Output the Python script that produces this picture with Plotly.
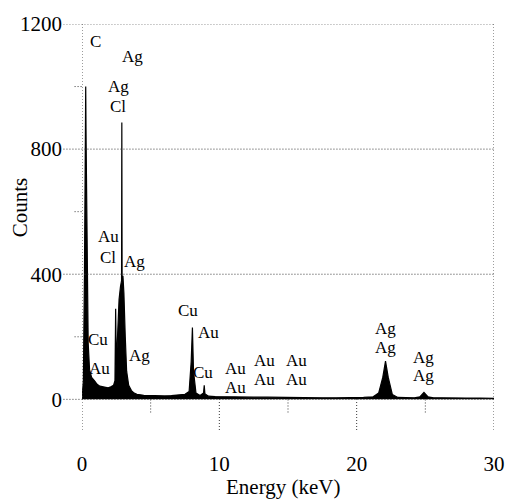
import plotly.graph_objects as go

# EDS spectrum
energy_kev = [0.0, 0.1, 0.18, 0.24, 0.27, 0.30, 0.36, 0.45, 0.55, 0.7, 0.9, 1.1, 1.3, 1.5,
              1.7, 1.9, 2.1, 2.3, 2.4, 2.45, 2.5, 2.6, 2.7, 2.8, 2.88, 2.9, 2.92, 2.98, 3.05,
              3.15, 3.25, 3.4, 3.6, 3.8, 4.0, 4.5, 5.0, 5.5, 6.0, 6.5, 7.0, 7.5, 7.8, 7.95,
              8.04, 8.12, 8.3, 8.6, 8.85, 8.9, 8.95, 9.2, 9.7, 10.5, 11.5, 12.5, 13.5, 14.5,
              15.5, 16.5, 17.5, 18.5, 19.5, 20.5, 21.2, 21.6, 21.9, 22.1, 22.3, 22.6, 23.0,
              23.6, 24.2, 24.6, 24.9, 25.2, 25.6, 26.2, 27.0, 28.0, 29.0, 30.0]
counts = [0, 60, 400, 900, 1000, 820, 420, 180, 95, 70, 60, 48, 42, 40,
          38, 37, 40, 45, 60, 290, 110, 250, 320, 360, 380, 885, 390, 395, 340,
          200, 90, 45, 28, 20, 16, 13, 12, 12, 11, 12, 13, 16, 25, 120,
          230, 90, 20, 12, 20, 45, 18, 10, 9, 8, 8, 7, 7, 6,
          6, 6, 5, 5, 5, 6, 8, 20, 70, 122, 70, 15, 6,
          5, 5, 8, 22, 8, 5, 5, 4, 4, 4, 3]

# peak labels (text, energy position, counts position)
label_text = ["C", "Ag", "Ag", "Cl", "Au", "Cl", "Ag", "Cu", "Au", "Ag",
              "Cu", "Au", "Cu", "Au", "Au", "Au", "Au", "Au", "Au",
              "Ag", "Ag", "Ag", "Ag"]
label_energy = [0.95, 3.7, 2.65, 2.6, 1.9, 1.9, 3.8, 1.2, 1.3, 4.2,
                7.7, 9.2, 8.8, 11.2, 11.2, 13.3, 15.6, 13.3, 15.6,
                22.1, 22.1, 24.9, 24.9]
label_counts = [1145, 1095, 1000, 935, 520, 455, 440, 190, 100, 140,
                285, 215, 85, 100, 38, 125, 125, 65, 65,
                225, 165, 135, 75]

x_major = [0, 10, 20, 30]
x_minor = [5, 15, 25]
y_major = [0, 400, 800, 1200]
y_minor = [200, 600, 1000]

FONT = "Liberation Serif, Times New Roman, serif"
DOT = dict(color="#3a3a3a", width=1, dash="1px,2px")
Y_BOTTOM = -98

fig = go.Figure()
fig.add_trace(go.Scatter(
    x=energy_kev, y=counts, mode="lines", fill="tozeroy",
    line=dict(color="black", width=1.2), fillcolor="black",
    hoverinfo="x+y", showlegend=False))

for t, e, c in zip(label_text, label_energy, label_counts):
    fig.add_annotation(x=e, y=c, text=t, showarrow=False,
                       xanchor="center", yanchor="middle",
                       font=dict(family=FONT, size=17, color="black"))

shapes = []
# horizontal dotted gridlines extending to the tick labels
for v in y_major:
    shapes.append(dict(type="line", xref="paper", yref="y", x0=-0.045, x1=1, y0=v, y1=v, line=DOT))
# left and right dotted borders
for v in [0, 30]:
    shapes.append(dict(type="line", xref="x", yref="y", x0=v, x1=v, y0=Y_BOTTOM, y1=1200, line=DOT))
# dotted major ticks below zero
for v in [10, 20]:
    shapes.append(dict(type="line", xref="x", yref="y", x0=v, x1=v, y0=Y_BOTTOM, y1=0, line=DOT))
for v in x_minor:
    shapes.append(dict(type="line", xref="x", yref="y", x0=v, x1=v, y0=-42, y1=0, line=DOT))
# short minor y ticks
for v in y_minor:
    shapes.append(dict(type="line", xref="paper", yref="y", x0=-0.018, x1=0, y0=v, y1=v, line=DOT))

fig.update_layout(
    width=510, height=502,
    margin=dict(l=82, r=16, t=24, b=72, autoexpand=False),
    paper_bgcolor="white", plot_bgcolor="white",
    font=dict(family=FONT, size=18, color="black"),
    shapes=shapes,
    xaxis=dict(range=[0, 30], tickvals=x_major, showgrid=False, zeroline=False,
               showline=False, ticks="", ticklabelstandoff=19, automargin=False,
               ticklabeloverflow="allow",
               tickfont=dict(family=FONT, size=21)),
    yaxis=dict(range=[Y_BOTTOM, 1200], tickvals=y_major, showgrid=False, zeroline=False,
               showline=False, ticks="", ticklabelstandoff=19, automargin=False,
               ticklabeloverflow="allow",
               tickfont=dict(family=FONT, size=21)),
)

fig.add_annotation(xref="paper", yref="paper", x=-0.15, y=0.549, text="Counts",
                   textangle=-90, showarrow=False, xanchor="center", yanchor="middle",
                   font=dict(family=FONT, size=21))
fig.add_annotation(xref="paper", yref="paper", x=0.488, y=-0.140, text="Energy (keV)",
                   showarrow=False, xanchor="center", yanchor="middle",
                   font=dict(family=FONT, size=21))

fig.write_html(
    "out.html",
    config={"displayModeBar": False},
    post_script="document.body.style.margin='0';document.body.style.overflow='hidden';",
)
